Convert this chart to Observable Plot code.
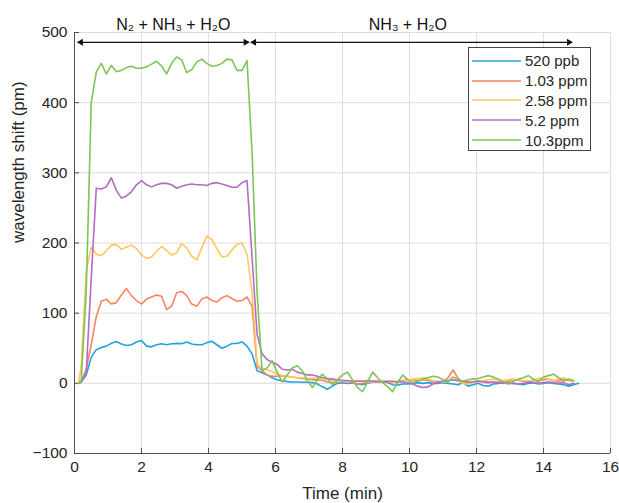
<!DOCTYPE html>
<html><head><meta charset="utf-8">
<script src="https://cdn.jsdelivr.net/npm/d3@7"></script>
<script src="https://cdn.jsdelivr.net/npm/@observablehq/plot@0.6"></script>
<style>
body{margin:0;background:#fff;}
#wrap{position:relative;width:619px;height:503px;font-family:"Liberation Sans",Arial,sans-serif;}
.legend{position:absolute;left:468px;top:47px;width:123px;height:104px;box-sizing:border-box;border:1px solid #444;background:#fff;padding-top:3px;}
.row{display:flex;align-items:center;height:19.8px;font-size:15px;color:#262626;white-space:nowrap;}
.row svg{margin-left:3px;margin-right:4px;}
</style></head><body><div id="wrap"></div>
<script>
const times = [0.12,0.2,0.35,0.5,0.65,0.8,0.95,1.1,1.25,1.4,
1.55,1.7,1.85,2.0,2.15,2.3,2.45,2.6,2.75,2.9,
3.05,3.2,3.35,3.5,3.65,3.8,3.95,4.1,4.25,4.4,
4.55,4.7,4.85,5.0,5.15,5.3,5.45,5.6,5.75,5.9,
6.05,6.2,6.35,6.5,6.65,6.8,6.95,7.1,7.25,7.4,
7.55,7.7,7.85,8.0,8.15,8.3,8.45,8.6,8.75,8.9,
9.05,9.2,9.35,9.5,9.65,9.8,9.95,10.1,10.25,10.4,
10.55,10.7,10.85,11.0,11.15,11.3,11.45,11.6,11.75,11.9,
12.05,12.2,12.35,12.5,12.65,12.8,12.95,13.1,13.25,13.4,
13.55,13.7,13.85,14.0,14.15,14.3,14.45,14.6,14.75,14.9,
15.05];

const seriesNames = ["520 ppb","1.03 ppm","2.58 ppm","5.2 ppm","10.3ppm"];
const seriesColors = ["#22a3de","#fb8262","#fdc85f","#b56ac6","#7cc655"];

const s520ppb = [0,2,12,37,48,51,53,57,59.5,56,
54,55,59,61,53,52,55,56.5,55,56.5,
57,56.5,59,56,55,55,58,60,55,50,
53,56.7,56.7,59,53,42,18,15,12,8,
5,3.5,2.5,2,2,1.5,1.5,1,-1,-5,
-8.5,-4,0,1,0,0.5,-1,-2,0,2,
3,3,1,-2,-2.5,-1,-1,0,1,0,
1,0,0,1,0,-1,-2,1,-4,-2,
0,-3,-4,-1,0,1,0,0,-1,-2,
0,1,-1,0,1,0,-1,-2,-4,-2,
0];
const s103ppm = [0,3,20,55,95,117,120,113,115,126,
135,125,118,113,120,123,126,124,105,110,
129,131,125,113,110,120,123,118,116,122,
125,121,117,118,123,110,24,18,12,10,
10,11,10,9,8,7,6,5,5,4,
2,1,2,3,2,1,-1,0,2,3,
4,3,2,1,3,4,5,5,4,5,
4,3,2,2,8,19,7,1,1,2,
4,3,2,1,2,1,3,5,4,3,
3,4,4,5,6,4,3,5,4,3];
const s258ppm = [0,25,160,194,184,182,189,197,198,191,
194,197,192,183,178,180,188,195,189,183,
186,199,193,181,176,193,210,205,192,180,
181,190,198,200,184,130,28,21,19,17,
13,11,10,9,8,8,7,7,8,7,
5,4,3,3,2,3,4,3,2,2,
3,4,3,1,2,3,5,6,7,8,
6,4,3,2,3,5,3,0,-1,1,
3,4,5,6,5,4,5,6,5,4,
3,5,7,8,6,4,6,8,5,3];
const s52ppm = [0,2,15,150,278,277,280,293,275,264,
267,273,283,289,283,280,283,285,285,283,
278,281,283,284,283,283,282,285,286,284,
282,279.5,279.5,286,289,180,70,42,34,30,
27,20,19,20,16,14,12,12,10,8,
7,6,5,4,4,3,3,3,4,3,
2,2,3,3,2,2,1,-1,-4,-6,
-5,-1,2,3,4,5,4,3,2,2,
3,2,1,2,1,0,1,0,-1,0,
2,1,0,1,2,1,0,1,-2,0];
const s103ppm10 = [0,3,130,400,444,456,441,453,444,446,
450,452,449,449,451,455,459,452,441,456,
465,461,443,447,458,462,456,452,453,456,
462,461,446,446,460,330,130,18,22,32,
16,2,12,22,25,18,4,-6,5,13,
6,-2,5,12,16,5,-6,-12,2,16,
8,1,-5,-12,2,12,5,1,3,6,
8,10,9,5,2,9,6,3,5,6,
7,9,11,9,6,2,-1,3,6,8,
11,6,2,9,11,13,8,3,6,4];
const seriesValues = [s520ppb, s103ppm, s258ppm, s52ppm, s103ppm10];

const xTicks = [0,2,4,6,8,10,12,14,16];
const yTicks = [-100,0,100,200,300,400,500];

const phaseLabels = ["N₂ + NH₃ + H₂O", "NH₃ + H₂O"];
const phaseStart = [0.1, 5.27];
const phaseEnd = [5.2, 14.85];
const phaseLabelX = [2.95, 9.95];
const arrowLevel = 486;
const labelLevel = 504;

const rows = [];
seriesValues.forEach((vals, s) => vals.forEach((v, i) => rows.push({t: times[i], v, series: seriesNames[s]})));
const phaseIdx = phaseLabels.map((_, i) => i);

const font = '"Liberation Sans", Arial, sans-serif';
const chart = Plot.plot({
  width: 619, height: 503,
  marginLeft: 74, marginRight: 9, marginTop: 32, marginBottom: 50,
  style: {fontFamily: font, fontSize: "15.5px", color: "#262626", background: "#fff", overflow: "visible"},
  x: {domain: [0, 16], label: null},
  y: {domain: [-100, 500], label: null},
  color: {domain: seriesNames, range: seriesColors},
  marks: [
    Plot.gridX(xTicks, {stroke: "#dedede", strokeOpacity: 1}),
    Plot.gridY(yTicks, {stroke: "#dedede", strokeOpacity: 1}),
    Plot.ruleX([0], {stroke: "#4d4d4d"}),
    Plot.ruleY([-100], {stroke: "#4d4d4d"}),
    Plot.axisX(xTicks, {tickSize: -5, tickPadding: 12, stroke: "#4d4d4d", fill: "#262626", fontSize: 15.5, label: null}),
    Plot.axisY(yTicks, {tickSize: -5, tickPadding: 12, stroke: "#4d4d4d", fill: "#262626", fontSize: 15.5, label: null}),
    Plot.line(rows, {x: "t", y: "v", z: "series", stroke: "series", strokeWidth: 1.6}),
    Plot.link(phaseIdx, {x1: i => phaseStart[i], x2: i => phaseEnd[i], y1: arrowLevel, y2: arrowLevel, stroke: "#111", strokeWidth: 1.3}),
    Plot.dot(phaseIdx, {x: i => phaseStart[i], y: arrowLevel, symbol: "triangle2", rotate: -90, r: 3.3, fill: "#111", dx: 3}),
    Plot.dot(phaseIdx, {x: i => phaseEnd[i], y: arrowLevel, symbol: "triangle2", rotate: 90, r: 3.3, fill: "#111", dx: -3}),
    Plot.text(phaseIdx, {x: i => phaseLabelX[i], y: labelLevel, text: i => phaseLabels[i], lineAnchor: "bottom", fontSize: 16, fill: "#111"}),
    Plot.text(["Time (min)"], {text: d => d, frameAnchor: "bottom", dy: 45, lineAnchor: "bottom", fontSize: 17, fill: "#262626"}),
    Plot.text(["wavelength shift (pm)"], {text: d => d, frameAnchor: "left", rotate: -90, dx: -56, fontSize: 17, fill: "#262626"})
  ]
});
const wrap = document.getElementById("wrap");
wrap.appendChild(chart);

const legend = document.createElement("div");
legend.className = "legend";
seriesNames.forEach((name, i) => {
  const row = document.createElement("div");
  row.className = "row";
  row.innerHTML = `<svg width="49" height="4"><line x1="0" y1="2" x2="49" y2="2" stroke="${seriesColors[i]}" stroke-width="1.6"/></svg><span>${name}</span>`;
  legend.appendChild(row);
});
wrap.appendChild(legend);
</script>
</body></html>
